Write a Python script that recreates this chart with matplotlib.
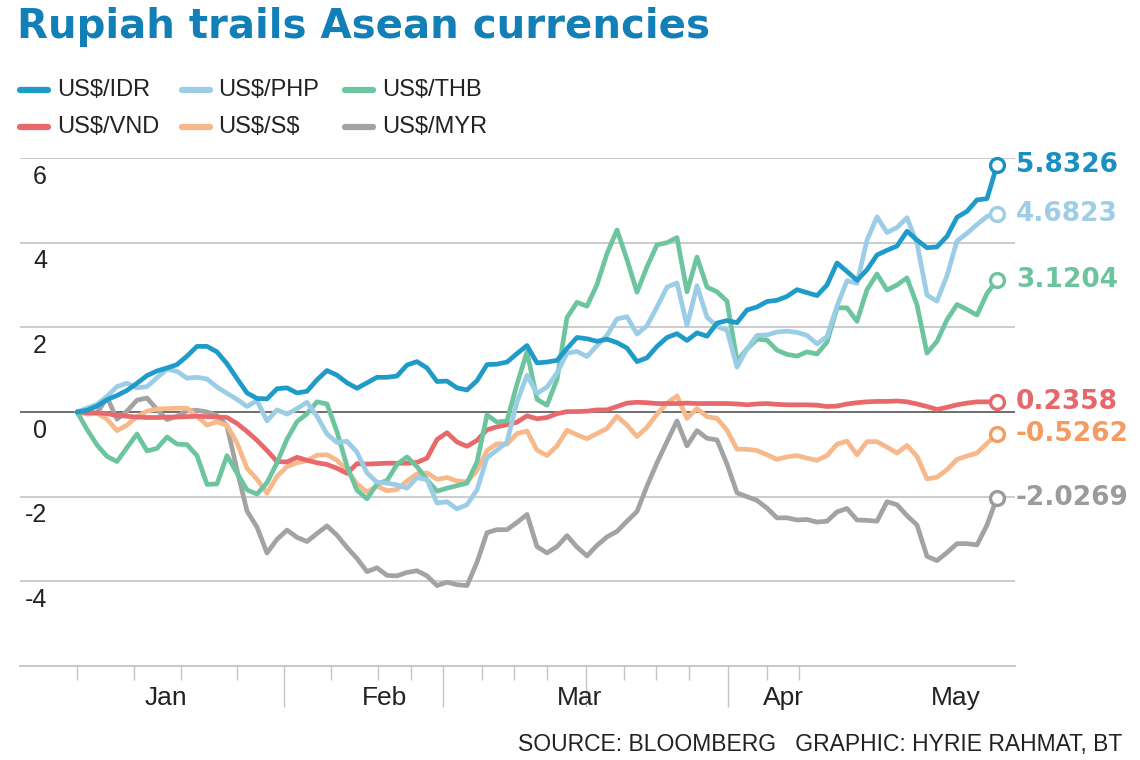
import matplotlib
matplotlib.use("Agg")
import matplotlib.pyplot as plt
from matplotlib.lines import Line2D

W, H = 1140, 760

# ---------------- data (percent change, trading-day index) ----------------
days = list(range(93))

idr = [0.00, 0.04, 0.14, 0.29, 0.39, 0.51, 0.68, 0.86, 0.97, 1.04,
       1.12, 1.32, 1.55, 1.55, 1.42, 1.14, 0.79, 0.45, 0.32, 0.31,
       0.55, 0.57, 0.45, 0.49, 0.76, 0.98, 0.87, 0.69, 0.56, 0.69,
       0.82, 0.82, 0.85, 1.11, 1.19, 1.04, 0.72, 0.73, 0.57, 0.52,
       0.74, 1.12, 1.13, 1.18, 1.38, 1.57, 1.16, 1.18, 1.22, 1.50,
       1.76, 1.73, 1.67, 1.72, 1.64, 1.51, 1.19, 1.28, 1.55, 1.76,
       1.85, 1.69, 1.87, 1.79, 2.10, 2.16, 2.11, 2.41, 2.48, 2.61,
       2.64, 2.73, 2.89, 2.82, 2.75, 3.00, 3.52, 3.32, 3.11, 3.36,
       3.71, 3.82, 3.92, 4.27, 4.06, 3.88, 3.90, 4.15, 4.60, 4.74,
       5.01, 5.04, 5.8326]

php = [0.00, 0.09, 0.18, 0.37, 0.60, 0.68, 0.57, 0.60, 0.81, 1.01,
       0.96, 0.80, 0.82, 0.78, 0.59, 0.44, 0.30, 0.13, 0.27, -0.21,
       0.05, -0.05, 0.08, 0.23, -0.10, -0.52, -0.72, -0.69, -0.95, -1.44,
       -1.66, -1.68, -1.72, -1.80, -1.55, -1.60, -2.15, -2.12, -2.29, -2.19,
       -1.84, -1.08, -0.90, -0.71, 0.24, 0.87, 0.44, 0.59, 0.92, 1.39,
       1.43, 1.31, 1.57, 1.81, 2.20, 2.25, 1.84, 2.04, 2.48, 2.95,
       3.05, 2.04, 2.98, 2.24, 2.02, 1.93, 1.06, 1.49, 1.81, 1.82,
       1.89, 1.91, 1.88, 1.81, 1.61, 1.78, 2.50, 3.10, 3.04, 4.06,
       4.61, 4.24, 4.36, 4.59, 3.98, 2.76, 2.62, 3.22, 4.04, 4.22,
       4.43, 4.62, 4.6823]

thb = [0.00, -0.41, -0.78, -1.05, -1.17, -0.84, -0.52, -0.92, -0.86, -0.59,
       -0.76, -0.77, -1.03, -1.71, -1.70, -1.03, -1.44, -1.84, -1.94, -1.67,
       -1.20, -0.64, -0.23, -0.04, 0.24, 0.19, -0.47, -1.28, -1.85, -2.05,
       -1.70, -1.62, -1.24, -1.06, -1.29, -1.60, -1.87, -1.80, -1.74, -1.68,
       -1.18, -0.07, -0.24, -0.21, 0.66, 1.42, 0.30, 0.16, 0.77, 2.23,
       2.59, 2.50, 3.01, 3.74, 4.30, 3.60, 2.83, 3.43, 3.95, 4.00,
       4.12, 2.84, 3.66, 2.95, 2.84, 2.62, 1.20, 1.49, 1.72, 1.70,
       1.46, 1.36, 1.32, 1.42, 1.37, 1.65, 2.46, 2.46, 2.14, 2.89,
       3.26, 2.88, 3.00, 3.17, 2.53, 1.39, 1.67, 2.18, 2.54, 2.42,
       2.29, 2.80, 3.1204]

vnd = [0.00, -0.02, -0.02, -0.04, -0.08, -0.10, -0.12, -0.13, -0.13, -0.12,
       -0.12, -0.11, -0.10, -0.11, -0.12, -0.13, -0.27, -0.46, -0.67, -0.91,
       -1.17, -1.18, -1.07, -1.14, -1.20, -1.24, -1.33, -1.45, -1.22, -1.23,
       -1.22, -1.21, -1.21, -1.21, -1.19, -1.09, -0.65, -0.49, -0.71, -0.81,
       -0.67, -0.42, -0.35, -0.30, -0.24, -0.09, -0.16, -0.13, -0.04, 0.01,
       0.01, 0.02, 0.05, 0.05, 0.13, 0.21, 0.23, 0.22, 0.20, 0.20,
       0.20, 0.21, 0.20, 0.20, 0.20, 0.20, 0.19, 0.17, 0.19, 0.20,
       0.18, 0.17, 0.17, 0.17, 0.16, 0.13, 0.14, 0.19, 0.22, 0.24,
       0.25, 0.25, 0.26, 0.24, 0.19, 0.13, 0.06, 0.11, 0.17, 0.21,
       0.24, 0.24, 0.2358]

sgd = [0.00, -0.05, -0.03, -0.17, -0.44, -0.31, -0.11, 0.02, 0.07, 0.08,
       0.09, 0.09, -0.10, -0.31, -0.23, -0.32, -0.73, -1.33, -1.59, -1.92,
       -1.52, -1.29, -1.20, -1.15, -1.02, -1.01, -1.14, -1.38, -1.70, -1.89,
       -1.75, -1.86, -1.83, -1.63, -1.46, -1.44, -1.59, -1.55, -1.63, -1.65,
       -1.38, -0.91, -0.75, -0.76, -0.51, -0.45, -0.90, -1.03, -0.80, -0.43,
       -0.54, -0.63, -0.51, -0.39, -0.10, -0.31, -0.58, -0.36, -0.05, 0.21,
       0.38, -0.15, 0.08, -0.11, -0.15, -0.43, -0.88, -0.88, -0.91, -1.01,
       -1.12, -1.06, -1.03, -1.09, -1.14, -1.03, -0.76, -0.69, -1.01, -0.70,
       -0.70, -0.83, -0.97, -0.79, -1.05, -1.58, -1.54, -1.36, -1.12, -1.04,
       -0.97, -0.74, -0.5262]

myr = [0.00, -0.02, -0.03, 0.35, -0.17, 0.02, 0.28, 0.33, 0.06, -0.18,
       -0.10, 0.03, 0.04, 0.00, -0.08, -0.33, -1.37, -2.34, -2.72, -3.33,
       -3.01, -2.79, -2.96, -3.06, -2.87, -2.69, -2.91, -3.20, -3.46, -3.77,
       -3.68, -3.86, -3.87, -3.79, -3.75, -3.87, -4.10, -4.02, -4.08, -4.10,
       -3.55, -2.85, -2.78, -2.78, -2.61, -2.42, -3.18, -3.33, -3.18, -2.92,
       -3.19, -3.40, -3.15, -2.95, -2.82, -2.58, -2.35, -1.75, -1.20, -0.70,
       -0.21, -0.80, -0.44, -0.62, -0.66, -1.23, -1.91, -2.00, -2.09, -2.27,
       -2.50, -2.50, -2.55, -2.54, -2.60, -2.58, -2.36, -2.28, -2.55, -2.56,
       -2.58, -2.12, -2.19, -2.45, -2.67, -3.41, -3.51, -3.32, -3.11, -3.11,
       -3.14, -2.67, -2.0269]

series_names = ["US$/IDR", "US$/PHP", "US$/THB", "US$/VND", "US$/S$", "US$/MYR"]
series_values = [idr, php, thb, vnd, sgd, myr]
line_colors = ["#1f9bc9", "#9ccde6", "#6dc5a0", "#e8696b", "#f7b98b", "#a3a3a3"]
label_colors = ["#1a8fc1", "#9fcde6", "#6cc49d", "#e6686a", "#f39b60", "#9b9b9b"]
draw_order = [5, 4, 3, 2, 1, 0]   # IDR on top

y_ticks = [6, 4, 2, 0, -2, -4]
week_ticks = [0, 5.7, 10.4, 16, 25.4, 30.1, 33.4, 40.5, 43.7, 47, 54.7, 57.9, 61.2, 69, 72.2]
month_bounds = [20.7, 36.6, 50.9, 65.1]
month_labels = ["Jan", "Feb", "Mar", "Apr", "May"]
month_label_pos = [8.9, 30.8, 50.3, 70.6, 87.9]

title = "Rupiah trails Asean currencies"
source = "SOURCE: BLOOMBERG   GRAPHIC: HYRIE RAHMAT, BT"

# ---------------- figure ----------------
fig = plt.figure(figsize=(W / 100, H / 100), dpi=100)
fig.patch.set_facecolor("white")

ax_l, ax_r, ax_t, ax_b = 20, 1015, 158, 666
ax = fig.add_axes([ax_l / W, 1 - ax_b / H, (ax_r - ax_l) / W, (ax_b - ax_t) / H])
ax.set_xlim(-5.7, 93.8)
ax.set_ylim(-6, 6)
for s in ["top", "right", "left"]:
    ax.spines[s].set_visible(False)
ax.spines["bottom"].set_color("#c4c4c4")
ax.spines["bottom"].set_linewidth(1.3)
ax.set_yticks([])

# gridlines
for v in y_ticks:
    if v == 0:
        ax.axhline(v, color="#555555", lw=1.2, zorder=1)
    else:
        ax.axhline(v, color="#c4c4c4", lw=1.2, zorder=1)

# y tick labels (below each gridline)
for v in y_ticks:
    ax.annotate(f"{v}", xy=(0, v), xycoords=("axes fraction", "data"),
                xytext=(19.4, -13.5), textcoords="offset points",
                ha="right", va="center", fontsize=18, color="#222222",
                family="Liberation Sans")

# x ticks
ax.set_xticks(month_bounds)
ax.set_xticks(week_ticks, minor=True)
ax.tick_params(axis="x", which="major", length=29.5, width=1.0, color="#c4c4c4",
               labelbottom=False)
ax.tick_params(axis="x", which="minor", length=10, width=1.0, color="#c4c4c4",
               labelbottom=False)
for lab, pos in zip(month_labels, month_label_pos):
    ax.annotate(lab, xy=(pos, 0), xycoords=("data", "axes fraction"),
                xytext=(0, -23), textcoords="offset points",
                ha="center", va="center", fontsize=19, color="#222222",
                family="Liberation Sans")

# lines
for k in draw_order:
    ax.plot(days, series_values[k], color=line_colors[k], lw=3.4,
            solid_joinstyle="round", solid_capstyle="round", zorder=10 - k)
    ax.plot(days[-1], series_values[k][-1], marker="o", ms=10, mfc="white",
            mec=label_colors[k], mew=2.4, zorder=20, clip_on=False)
    ax.annotate(f"{series_values[k][-1]:.4f}", xy=(days[-1], series_values[k][-1]),
                xytext=(13.5, 0), textcoords="offset points", ha="left",
                va="center", fontsize=19, fontweight="bold",
                color=label_colors[k], family="DejaVu Sans",
                annotation_clip=False)

# title
fig.text(17 / W, 1 - 38 / H, title, fontsize=29, fontweight="bold",
         color="#137fb7", ha="left", va="baseline", family="DejaVu Sans")

# legend (manual placement)
col_handle_x = [20, 182, 345]
col_text_x = [57, 218, 382]
row_y = [90, 127]
for idx in range(6):
    r, c = divmod(idx, 3)
    yy = 1 - row_y[r] / H
    fig.add_artist(Line2D([col_handle_x[c] / W, (col_handle_x[c] + 28) / W], [yy, yy],
                          transform=fig.transFigure, color=line_colors[idx],
                          lw=4.5, solid_capstyle="round"))
    fig.text(col_text_x[c] / W, yy, series_names[idx], fontsize=17,
             color="#222222", ha="left", va="center", family="Liberation Sans",
             parse_math=False)

# source
fig.text(1122 / W, 1 - 745 / H, source, fontsize=16.5, color="#222222",
         ha="right", va="center", family="Liberation Sans", parse_math=False)

fig.savefig("out.png", dpi=100, facecolor="white")
